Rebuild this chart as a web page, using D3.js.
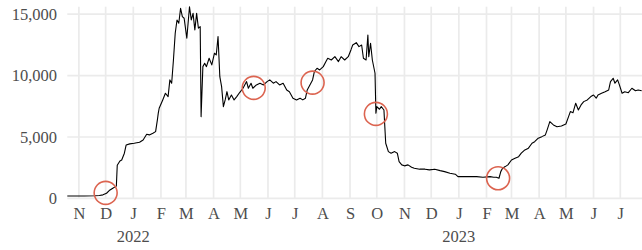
<!DOCTYPE html>
<html>
<head>
<meta charset="utf-8">
<script src="https://cdn.jsdelivr.net/npm/d3@7"></script>
<style>
  body { margin: 0; background: #fff; }
  svg text { font-family: "Liberation Serif", "DejaVu Serif", serif; fill: #4d4d4d; }
</style>
</head>
<body>
<div id="chart"></div>
<script>
// series (date, value)
const dates = [
  "2021-10-19","2021-10-27","2021-11-07","2021-11-19","2021-11-24","2021-11-28","2021-12-02","2021-12-05",
  "2021-12-09","2021-12-12","2021-12-13","2021-12-14","2021-12-17","2021-12-19","2021-12-22","2021-12-24",
  "2021-12-28","2022-01-02","2022-01-08","2022-01-12","2022-01-16","2022-01-19","2022-01-23","2022-01-26",
  "2022-01-28","2022-01-29","2022-01-30","2022-02-03","2022-02-06","2022-02-09","2022-02-11","2022-02-13",
  "2022-02-15","2022-02-17","2022-02-19","2022-02-21","2022-02-23","2022-02-25","2022-02-27","2022-03-02",
  "2022-03-05","2022-03-07","2022-03-09","2022-03-11","2022-03-13","2022-03-15","2022-03-17","2022-03-18",
  "2022-03-20","2022-03-22","2022-03-24","2022-03-27","2022-03-30","2022-04-02","2022-04-04","2022-04-06",
  "2022-04-08","2022-04-10","2022-04-12","2022-04-14","2022-04-16","2022-04-18","2022-04-21","2022-04-24",
  "2022-04-27","2022-04-30","2022-05-04","2022-05-08","2022-05-10","2022-05-13","2022-05-15","2022-05-19",
  "2022-05-23","2022-05-27","2022-05-31","2022-06-03","2022-06-07","2022-06-10","2022-06-14","2022-06-18",
  "2022-06-22","2022-06-25","2022-06-29","2022-07-03","2022-07-07","2022-07-10","2022-07-13","2022-07-15",
  "2022-07-18","2022-07-21","2022-07-23","2022-07-26","2022-07-29","2022-08-02","2022-08-05","2022-08-07",
  "2022-08-11","2022-08-15","2022-08-19","2022-08-22","2022-08-26","2022-08-30","2022-09-02","2022-09-04",
  "2022-09-08","2022-09-11","2022-09-14","2022-09-16","2022-09-19","2022-09-21","2022-09-22","2022-09-24",
  "2022-09-26","2022-09-29","2022-09-30","2022-10-01","2022-10-04","2022-10-06","2022-10-09","2022-10-10",
  "2022-10-11","2022-10-14","2022-10-17","2022-10-21","2022-10-24","2022-10-26","2022-10-29","2022-11-01",
  "2022-11-05","2022-11-09","2022-11-12","2022-11-18","2022-11-24","2022-11-29","2022-12-05","2022-12-11",
  "2022-12-16","2022-12-22","2022-12-28","2022-12-31","2023-01-06","2023-01-13","2023-01-21","2023-01-28",
  "2023-02-05","2023-02-09","2023-02-12","2023-02-15","2023-02-17","2023-02-19","2023-02-22","2023-02-25",
  "2023-03-01","2023-03-05","2023-03-09","2023-03-12","2023-03-16","2023-03-20","2023-03-24","2023-03-27",
  "2023-03-31","2023-04-04","2023-04-08","2023-04-10","2023-04-13","2023-04-17","2023-04-21","2023-04-26",
  "2023-05-01","2023-05-04","2023-05-06","2023-05-09","2023-05-12","2023-05-15","2023-05-18","2023-05-21",
  "2023-05-25","2023-05-29","2023-06-01","2023-06-04","2023-06-06","2023-06-10","2023-06-14","2023-06-18",
  "2023-06-20","2023-06-23","2023-06-25","2023-06-28","2023-06-30","2023-07-03","2023-07-06","2023-07-10",
  "2023-07-14","2023-07-18","2023-07-21","2023-07-25"
];
const values = [
  200,200,200,220,240,290,420,640,
  830,960,1000,2700,3050,3130,3680,4350,
  4440,4490,4570,4760,5220,5170,5300,5440,
  6400,6940,7340,8020,8560,8290,9650,9380,
  11270,13450,14530,14260,15480,14800,14670,13040,
  15610,14530,15070,13720,15070,13860,13990,6660,
  10730,11000,10730,11410,10870,11820,11680,13180,
  9910,9100,7470,8020,8690,8020,8420,8020,
  8290,8600,8970,9510,8970,9380,8970,9240,
  9380,9240,9510,9650,9380,9510,9240,9380,
  8830,8690,8160,8020,8160,8020,8160,8830,
  9240,9650,10320,10600,10460,10730,11140,11410,
  11270,11540,11140,11540,11270,11540,12090,12490,
  12680,12360,12490,11410,11270,13310,11540,12630,
  11270,10190,6940,7470,7260,7470,7200,5840,
  4490,3810,3680,3810,3680,3000,2730,2650,
  2730,2540,2460,2380,2380,2320,2380,2260,
  2180,2050,1970,1770,1770,1770,1770,1720,
  1770,1720,1720,1640,2180,2460,2590,2730,
  3130,3270,3400,3680,3950,4090,4490,4620,
  4900,5030,5170,5580,6250,5980,5840,5900,
  6060,6660,7070,6980,7750,7200,7610,7880,
  8020,8290,8420,8160,8420,8560,8690,8830,
  9510,9780,9380,9650,9240,8560,8690,8610,
  8970,8770,8830,8770
];

// highlighted points
const markDates = ["2021-12-01","2022-05-16","2022-07-21","2022-09-30","2023-02-14"];
const markValues = [450, 9000, 9430, 6880, 1640];

const yTicks = [0, 5000, 10000, 15000];
const yearLabels = [{date: "2022-01-01", text: "2022"}, {date: "2023-01-01", text: "2023"}];
const monthInitials = ["J","F","M","A","M","J","J","A","S","O","N","D"];

const W = 642, H = 250;
const parse = d3.timeParse("%Y-%m-%d");
const data = dates.map((d, i) => ({date: parse(d), value: values[i]}));

const svg = d3.select("#chart").append("svg")
  .attr("width", W).attr("height", H);

const x = d3.scaleTime()
  .domain(d3.extent(data, d => d.date))
  .range([67.3, 641.7]);
const y = d3.scaleLinear()
  .domain([0, d3.max(values)])
  .range([198.4, 6.7]);

// grid
const months = d3.timeMonth.range(d3.timeMonth.ceil(x.domain()[0]), x.domain()[1]);
svg.append("g").selectAll("line").data(months).join("line")
  .attr("x1", d => x(d)).attr("x2", d => x(d))
  .attr("y1", y.range()[1]).attr("y2", y.range()[0])
  .attr("stroke", "#ebebeb").attr("stroke-width", 1.7);
svg.append("g").selectAll("line").data(yTicks).join("line")
  .attr("x1", x.range()[0]).attr("x2", W)
  .attr("y1", d => y(d)).attr("y2", d => y(d))
  .attr("stroke", "#ebebeb").attr("stroke-width", 1.7);

// y axis
const yAxis = svg.append("g")
  .attr("transform", "translate(61,0)")
  .call(d3.axisLeft(y).tickValues(yTicks).tickFormat(d3.format(",")).tickSize(0).tickPadding(4));
yAxis.select(".domain").remove();
yAxis.selectAll("text").style("font-size", "16.5px").style("font-family", null);

// x axis
const xAxis = svg.append("g")
  .attr("transform", "translate(0,203)")
  .call(d3.axisBottom(x).tickValues(months).tickFormat(d => monthInitials[d.getMonth()]).tickSize(0).tickPadding(4));
xAxis.select(".domain").remove();
xAxis.selectAll("text").style("font-size", "16.5px").style("font-family", null);

svg.append("g").selectAll("text").data(yearLabels).join("text")
  .attr("x", d => x(parse(d.date)))
  .attr("y", 242)
  .attr("text-anchor", "middle")
  .style("font-size", "16.5px")
  .text(d => d.text);

// line
const line = d3.line().x(d => x(d.date)).y(d => y(d.value));
svg.append("path").datum(data)
  .attr("fill", "none").attr("stroke", "#000").attr("stroke-width", 1.1)
  .attr("stroke-linejoin", "round")
  .attr("d", line);

// circles
svg.append("g").selectAll("circle").data(markDates).join("circle")
  .attr("cx", d => x(parse(d)))
  .attr("cy", (d, i) => y(markValues[i]))
  .attr("r", 11.5)
  .attr("fill", "none")
  .attr("stroke", "#dc6450")
  .attr("stroke-width", 1.6);
</script>
</body>
</html>
